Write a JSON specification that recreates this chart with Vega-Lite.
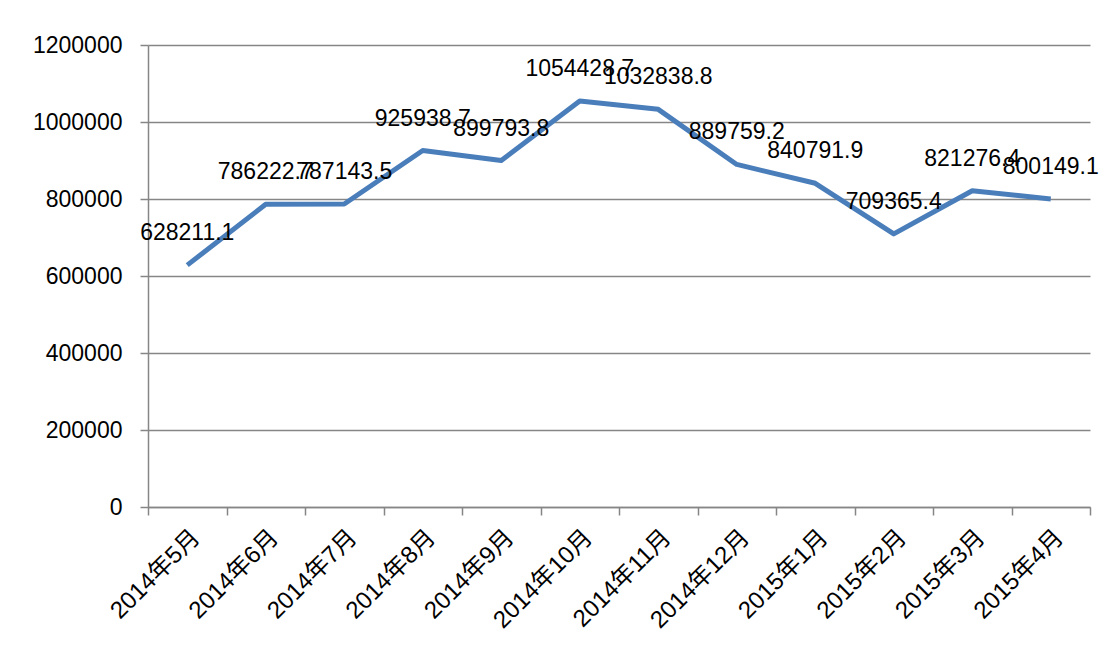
{
  "$schema": "https://vega.github.io/schema/vega-lite/v6.json",
  "autosize": {"type": "none"},
  "width": 942,
  "height": 462,
  "padding": {"left": 148, "top": 45, "right": 18, "bottom": 148},
  "background": "white",
  "config": {
    "font": "Liberation Sans, Noto Sans CJK SC",
    "view": {"stroke": null}
  },
  "data": {
    "values": [
      {"month": "2014年5月", "value": 628211.1},
      {"month": "2014年6月", "value": 786222.7},
      {"month": "2014年7月", "value": 787143.5},
      {"month": "2014年8月", "value": 925938.7},
      {"month": "2014年9月", "value": 899793.8},
      {"month": "2014年10月", "value": 1054428.7},
      {"month": "2014年11月", "value": 1032838.8},
      {"month": "2014年12月", "value": 889759.2},
      {"month": "2015年1月", "value": 840791.9},
      {"month": "2015年2月", "value": 709365.4},
      {"month": "2015年3月", "value": 821276.4},
      {"month": "2015年4月", "value": 800149.1}
    ]
  },
  "encoding": {
    "x": {
      "field": "month",
      "type": "ordinal",
      "sort": null,
      "scale": {"paddingInner": 0, "paddingOuter": 0},
      "axis": {
        "title": null,
        "labelAngle": -45,
        "labelFontSize": 24,
        "labelColor": "black",
        "labelPadding": 10,
        "tickBand": "extent",
        "tickSize": 8,
        "tickColor": "#868686",
        "domainColor": "#868686",
        "domainWidth": 1.5,
        "tickWidth": 1.5,
        "grid": false
      }
    },
    "y": {
      "field": "value",
      "type": "quantitative",
      "scale": {"domain": [0, 1200000], "nice": false},
      "axis": {
        "title": null,
        "values": [0, 200000, 400000, 600000, 800000, 1000000, 1200000],
        "format": "d",
        "labelFontSize": 23,
        "labelColor": "black",
        "labelPadding": 18,
        "tickSize": 8,
        "tickColor": "#868686",
        "domainColor": "#868686",
        "domainWidth": 1.5,
        "tickWidth": 1.5,
        "gridColor": "#868686",
        "gridWidth": 1.5
      }
    }
  },
  "layer": [
    {
      "mark": {"type": "line", "color": "#4a7ebb", "strokeWidth": 5, "strokeJoin": "round"}
    },
    {
      "mark": {"type": "text", "dy": -32, "fontSize": 23, "color": "black"},
      "encoding": {"text": {"field": "value", "type": "quantitative", "format": ".1f"}}
    }
  ]
}
